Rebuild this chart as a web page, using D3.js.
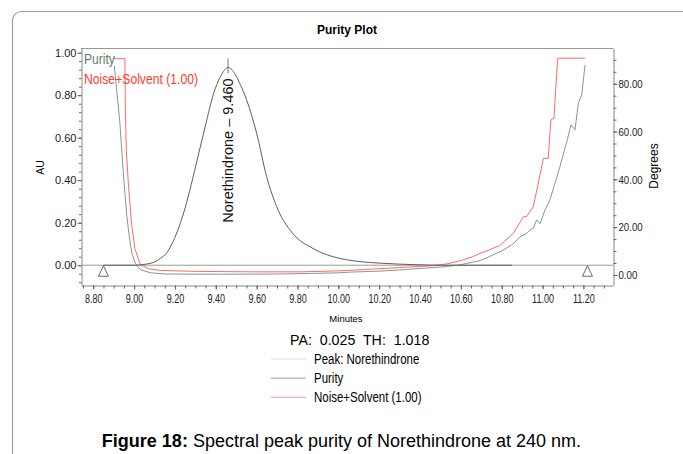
<!DOCTYPE html>
<html><head><meta charset="utf-8">
<script src="https://cdn.jsdelivr.net/npm/d3@7"></script>
<style>
body{margin:0;background:#fff;}
svg{display:block;}
.reg{font-family:"Liberation Sans",Arial,sans-serif;}
.nar{font-family:"Liberation Sans Narrow","Arial Narrow","Liberation Sans",Arial,sans-serif;}
</style></head><body>
<svg id="c" width="683" height="454"></svg>
<script>
// ---------- data ----------
const xMajorTicks = [8.80, 9.00, 9.20, 9.40, 9.60, 9.80, 10.00, 10.20, 10.40, 10.60, 10.80, 11.00, 11.20];
const xMinorTicks = d3.range(0, 52).map(i => +(8.75 + i * 0.05).toFixed(2)).filter(v => v <= 11.31);
const auTicks = [0.00, 0.20, 0.40, 0.60, 0.80, 1.00];
const auMinorTicks = d3.range(-2, 26).map(i => +(i * 0.04).toFixed(2));
const degTicks = [0, 20, 40, 60, 80];
const degMinorTicks = d3.range(0, 19).map(i => i * 5);

const chromTime = [8.85, 9.00, 9.04, 9.08, 9.10, 9.13, 9.16, 9.19, 9.22, 9.25, 9.28, 9.31, 9.35, 9.39, 9.43, 9.46, 9.494, 9.52, 9.551, 9.60, 9.649, 9.698, 9.763, 9.81, 9.861, 9.92, 9.975, 10.04, 10.106, 10.20, 10.30, 10.40, 10.50, 10.85];
const chromAU   = [0, 0, 0.003, 0.009, 0.015, 0.033, 0.058, 0.11, 0.18, 0.27, 0.38, 0.50, 0.66, 0.81, 0.90, 0.931, 0.90, 0.85, 0.778, 0.621, 0.417, 0.276, 0.166, 0.118, 0.087, 0.058, 0.040, 0.026, 0.017, 0.010, 0.005, 0.002, 0, 0];

const purityTime = [8.903, 8.906, 8.93, 8.947, 8.964, 8.975, 8.988, 9.005, 9.03, 9.08, 9.15, 9.40, 9.70, 9.90, 10.00, 10.06, 10.20, 10.30, 10.40, 10.53, 10.60, 10.66, 10.694, 10.73, 10.775, 10.80, 10.849, 10.87, 10.89, 10.92, 10.939, 10.955, 10.971, 10.988, 11.012, 11.036, 11.061, 11.085, 11.121, 11.139, 11.159, 11.175, 11.192, 11.208];
const purityDeg  = [87.5, 85, 64, 43, 25, 17, 9.5, 5, 2.2, 0.9, 0.4, 0.3, 0.4, 0.7, 0.9, 1.2, 1.6, 2.1, 2.7, 3.5, 4.3, 5.4, 6.0, 7.3, 9.1, 10.0, 12.6, 14.2, 16.0, 17.3, 18.8, 19.5, 23.0, 21.5, 27.2, 31.4, 38.4, 45.3, 56.5, 62.8, 60.7, 71.8, 75.3, 87.9];

const noiseTime = [8.897, 8.955, 8.957, 8.962, 8.972, 8.988, 9.004, 9.03, 9.07, 9.13, 9.30, 9.60, 9.81, 10.00, 10.14, 10.30, 10.45, 10.53, 10.60, 10.66, 10.694, 10.74, 10.79, 10.857, 10.906, 10.922, 10.955, 10.979, 11.004, 11.028, 11.041, 11.056, 11.074, 11.208];
const noiseDeg  = [90.5, 90.5, 70, 52, 38, 21, 11, 4.5, 2.6, 1.9, 1.5, 1.3, 1.3, 1.7, 2.3, 3.1, 3.8, 4.6, 6.0, 7.7, 9.1, 10.5, 12.3, 17.4, 24.4, 24.4, 28.6, 38.4, 48.8, 48.8, 64.9, 65.6, 90.7, 90.7];

const peakName = "Norethindrone";
const peakTime = 9.460;
const markerTimes = [8.85, 11.22];
const legendItems = [
  {label: "Peak: Norethindrone", color: "#dedede"},
  {label: "Purity", color: "#a9b4ae"},
  {label: "Noise+Solvent (1.00)", color: "#f6aaaa"}
];
const statsText = "PA:  0.025  TH:  1.018";
const captionBold = "Figure 18:";
const captionRest = " Spectral peak purity of Norethindrone at 240 nm.";

// ---------- helpers ----------
function squeeze(sel, f) {
  sel.each(function () {
    const L = this.getComputedTextLength();
    d3.select(this).attr("textLength", L * f).attr("lengthAdjust", "spacingAndGlyphs");
  });
}

// ---------- layout ----------
const svg = d3.select("#c");
const P = {left: 81, right: 613, top: 48, bottom: 285};
const x = d3.scaleLinear().domain([8.74, 11.345]).range([P.left, P.right]);
const yAU = d3.scaleLinear().domain([-0.093, 1.022]).range([P.bottom, P.top]);
const yDeg = d3.scaleLinear().domain([-4.2, 94.96]).range([P.bottom, P.top]);

// outer frame
svg.append("rect").attr("x", 12.5).attr("y", 11.5).attr("width", 740).attr("height", 520)
  .attr("rx", 9).attr("fill", "none").attr("stroke", "#a0a0a0").attr("stroke-width", 1.2);

// title
svg.append("text").attr("class", "reg").attr("x", 347).attr("y", 34)
  .attr("text-anchor", "middle").attr("font-size", 12).attr("font-weight", "bold").text("Purity Plot");

// plot top border
svg.append("line").attr("x1", P.left).attr("x2", P.right).attr("y1", P.top + 0.5).attr("y2", P.top + 0.5)
  .attr("stroke", "#999");

function styleAxis(g) {
  g.selectAll("path.domain").attr("stroke", "#888");
  g.selectAll(".tick line").attr("stroke", "#666");
  g.selectAll(".tick text").attr("fill", "#222");
}

// left axis
const gL = svg.append("g").attr("transform", `translate(${P.left + 0.5},0)`);
gL.call(d3.axisLeft(yAU).tickValues(auMinorTicks).tickSize(2.5).tickSizeOuter(0).tickFormat(""));
gL.append("g").call(d3.axisLeft(yAU).tickValues(auTicks).tickSize(4).tickSizeOuter(0).tickPadding(1).tickFormat(d3.format(".2f")))
  .call(g => g.select("path.domain").remove())
  .selectAll("text").attr("class", "reg").attr("font-size", 11);
styleAxis(gL);

// right axis
const gR = svg.append("g").attr("transform", `translate(${P.right + 0.5},0)`);
gR.call(d3.axisRight(yDeg).tickValues(degMinorTicks).tickSize(3).tickSizeOuter(0).tickFormat(""));
gR.append("g").call(d3.axisRight(yDeg).tickValues(degTicks).tickSize(4).tickSizeOuter(0).tickPadding(1).tickFormat(d3.format(".2f")))
  .call(g => g.select("path.domain").remove())
  .selectAll("text").attr("class", "nar").attr("font-size", 11.5).call(squeeze, 0.84);
styleAxis(gR);

// bottom axis
const gB = svg.append("g").attr("transform", `translate(0,${P.bottom + 0.5})`);
gB.call(d3.axisBottom(x).tickValues(xMinorTicks).tickSize(3).tickSizeOuter(0).tickFormat(""));
gB.append("g").call(d3.axisBottom(x).tickValues(xMajorTicks).tickSize(4).tickSizeOuter(0).tickPadding(5).tickFormat(d3.format(".2f")))
  .call(g => g.select("path.domain").remove())
  .selectAll("text").attr("class", "nar").attr("font-size", 12.5).call(squeeze, 0.72);
styleAxis(gB);

// axis titles
svg.append("text").attr("class", "reg").attr("font-size", 10.5)
  .attr("transform", "translate(43.5,167.5) rotate(-90)").attr("text-anchor", "middle").text("AU");
svg.append("text").attr("class", "reg").attr("font-size", 12)
  .attr("transform", "translate(657.5,166) rotate(-90)").attr("text-anchor", "middle").text("Degrees");
svg.append("text").attr("class", "reg").attr("font-size", 9.5)
  .attr("x", 346).attr("y", 322).attr("text-anchor", "middle").text("Minutes");

// clip
svg.append("defs").append("clipPath").attr("id", "clip")
  .append("rect").attr("x", P.left + 1).attr("y", P.top + 1).attr("width", P.right - P.left - 1).attr("height", P.bottom - P.top - 1);
const plotG = svg.append("g").attr("clip-path", "url(#clip)");

// zero baseline
plotG.append("line").attr("x1", P.left).attr("x2", P.right).attr("y1", yAU(0)).attr("y2", yAU(0))
  .attr("stroke", "#9a9a9a").attr("stroke-width", 1);

// curves
const chromData = chromTime.map((t, i) => [t, chromAU[i]]);
const purityData = purityTime.map((t, i) => [t, purityDeg[i]]);
const noiseData = noiseTime.map((t, i) => [t, noiseDeg[i]]);

plotG.append("path").datum(noiseData).attr("fill", "none").attr("stroke", "#ff6a6a").attr("stroke-width", 1)
  .attr("d", d3.line().x(d => x(d[0])).y(d => yDeg(d[1])));
plotG.append("path").datum(purityData).attr("fill", "none").attr("stroke", "#86988f").attr("stroke-width", 1)
  .attr("d", d3.line().x(d => x(d[0])).y(d => yDeg(d[1])));
plotG.append("path").datum(chromData).attr("fill", "none").attr("stroke", "#5e5e5e").attr("stroke-width", 1)
  .attr("d", d3.line().curve(d3.curveMonotoneX).x(d => x(d[0])).y(d => yAU(d[1])));

// peak marker
const peakTop = d3.max(chromAU);
plotG.append("line").attr("x1", x(peakTime)).attr("x2", x(peakTime))
  .attr("y1", yAU(peakTop) - 9).attr("y2", yAU(peakTop) + 6).attr("stroke", "#777");
svg.append("text").attr("class", "reg").attr("font-size", 14.5).attr("fill", "#111")
  .attr("transform", `translate(${x(peakTime) + 5},${yAU(0.2)}) rotate(-90)`)
  .text(`${peakName} \u2013 ${peakTime.toFixed(3)}`);

// integration markers
markerTimes.forEach(t => {
  const cx = x(t), cy = yAU(0);
  svg.append("path").attr("d", `M${cx},${cy + 0.5}L${cx - 5},${cy + 11}L${cx + 5},${cy + 11}Z`)
    .attr("fill", "#fff").attr("stroke", "#555").attr("stroke-width", 0.9);
});

// in-plot legend
svg.append("text").attr("class", "nar").attr("font-size", 14).attr("fill", "#5e7d6d")
  .attr("x", 84).attr("y", 64).text("Purity").call(squeeze, 0.86);
svg.append("text").attr("class", "nar").attr("font-size", 14).attr("fill", "#ff3b30")
  .attr("x", 84).attr("y", 83.5).text("Noise+Solvent (1.00)").call(squeeze, 0.87);

// lower stats + legend
svg.append("text").attr("class", "nar").attr("font-size", 14.5).attr("x", 290).attr("y", 345)
  .attr("xml:space", "preserve").style("white-space", "pre").text(statsText).call(squeeze, 0.98);
legendItems.forEach((d, i) => {
  const yy = 359 + i * 19.2;
  svg.append("line").attr("x1", 271).attr("x2", 306).attr("y1", yy).attr("y2", yy)
    .attr("stroke", d.color).attr("stroke-width", 1.2);
  svg.append("text").attr("class", "nar").attr("font-size", 14).attr("x", 314).attr("y", yy + 5)
    .text(d.label).call(squeeze, 0.82);
});

// caption
const cap = svg.append("text").attr("class", "reg").attr("font-size", 18).attr("x", 341.5).attr("y", 447)
  .attr("text-anchor", "middle");
cap.append("tspan").attr("font-weight", "bold").text(captionBold);
cap.append("tspan").attr("xml:space", "preserve").style("white-space", "pre").text(captionRest);
</script>
</body></html>
